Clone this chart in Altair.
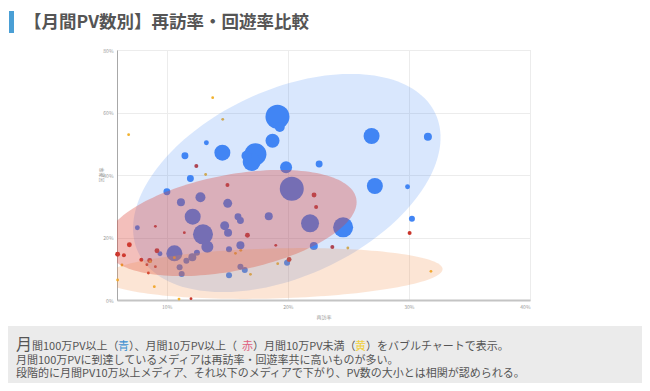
import altair as alt
import pandas as pd
import numpy as np

# ---------------- data ----------------
# 月間100万PV以上 (blue)
blue_x = [19.15, 19.34, 18.74, 17.33, 16.59, 17.02, 14.60, 19.86, 22.59, 20.33,
          15.04, 18.43, 15.89, 16.09, 14.79, 15.07, 21.84, 24.57, 16.09, 15.15,
          22.15, 19.94, 16.09, 16.45, 15.15, 13.28, 11.51, 11.96, 26.92, 31.57,
          27.19, 29.89, 30.25, 10.02, 11.18, 12.79, 12.15, 7.58, 13.00, 13.36,
          10.64, 9.45, 12.50, 12.12, 11.63, 11.07, 11.24]
blue_y = [58.66, 55.36, 50.98, 46.62, 46.18, 44.16, 47.14, 42.46, 43.52, 35.62,
          30.94, 26.78, 26.66, 25.44, 23.78, 21.54, 24.54, 23.26, 17.50, 16.22,
          17.28, 11.94, 10.66, 9.60, 7.90, 50.34, 46.18, 38.88, 52.48, 52.26,
          36.48, 36.26, 26.02, 34.66, 31.26, 32.86, 26.66, 23.14, 21.02, 17.06,
          14.94, 14.82, 15.14, 13.66, 12.58, 10.46, 8.32]
blue_pv = [144, 25, 49, 121, 25, 81, 64, 36, 12, 144,
           20, 16, 12, 12, 20, 16, 81, 100, 16, 9,
           16, 9, 9, 9, 9, 6, 12, 12, 64, 16,
           64, 6, 9, 12, 16, 25, 64, 6, 100, 36,
           64, 6, 9, 16, 9, 9, 9]

# 月間10万PV以上 (red)
red_x = [15.02, 22.17, 22.34, 16.67, 19.01, 23.68, 20.11, 12.45, 9.07, 11.46,
         6.92, 9.20, 5.95, 6.47, 7.91, 8.60, 8.37, 9.07, 8.49, 12.01, 30.06]
red_y = [36.80, 33.60, 29.76, 20.70, 17.50, 16.96, 12.96, 42.88, 23.58, 21.54,
         17.70, 15.78, 14.62, 14.30, 12.90, 12.64, 11.30, 10.66, 8.64, 0.42, 21.44]
red_pv = [4, 6, 4, 6, 2, 4, 6, 4, 2, 2,
          6, 6, 6, 4, 4, 6, 2, 2, 2, 2, 4]

# 月間10万PV未満 (yellow)
yel_x = [6.86, 13.80, 14.63, 13.22, 15.68, 16.12, 19.17, 16.92, 8.65, 10.64,
         6.31, 5.95, 8.98, 11.02, 24.96, 31.82]
yel_y = [52.90, 64.74, 57.82, 40.16, 14.94, 15.90, 11.62, 8.22, 12.26, 13.54,
         11.20, 6.40, 4.26, 0.30, 16.64, 9.18]
yel_pv = [2] * 16

groups = ["月間100万PV以上", "月間10万PV以上", "月間10万PV未満"]
group_colors = ["#4285f4", "#c9352b", "#f2b22e"]

x_ticks = [10, 20, 30, 40]
y_ticks = [0, 20, 40, 60, 80]
x_domain = [5.9, 40]
y_domain = [0, 80]

# highlight ellipses: centre (data units), semi-axes (px), tilt (deg)
ell_names = ["blue", "red", "orange"]
ell_cx = [19.92, 15.28, 18.75]
ell_cy = [37.44, 24.64, 8.48]
ell_a = [164, 128, 170]
ell_b = [93, 48, 25]
ell_angle = [25, 11, 1.5]
ell_color = ["#4285f4", "#db4437", "#f0883e"]
ell_opacity = [0.2, 0.34, 0.22]

title_text = "【月間PV数別】再訪率・回遊率比較"
x_title = "再訪率"
y_title = "回遊率"
line1_big = "月"
line1_segments = ["間100万PV以上（", "青", "）、月間10万PV以上（", "赤",
                  "）月間10万PV未満（", "黄", "）をバブルチャートで表示。"]
line1_colors = ["#555555", "#3a8fd0", "#555555", "#e0607e", "#555555", "#f0d040", "#555555"]
line2 = "月間100万PVに到達しているメディアは再訪率・回遊率共に高いものが多い。"
line3 = "段階的に月間PV10万以上メディア、それ以下のメディアで下がり、PV数の大小とは相関が認められる。"

# ---------------- build tables ----------------
W, H = 413, 250
kx = W / (x_domain[1] - x_domain[0])
ky = H / (y_domain[1] - y_domain[0])

bub = pd.concat([
    pd.DataFrame({"x": blue_x, "y": blue_y, "pv": blue_pv, "g": groups[0]}),
    pd.DataFrame({"x": red_x, "y": red_y, "pv": red_pv, "g": groups[1]}),
    pd.DataFrame({"x": yel_x, "y": yel_y, "pv": yel_pv, "g": groups[2]}),
], ignore_index=True)
bub["z"] = -bub["pv"]

FONT = "Noto Sans CJK JP"

xenc = alt.X("x:Q", scale=alt.Scale(domain=x_domain, nice=False, zero=False),
             axis=alt.Axis(values=x_ticks, labelExpr="datum.value + '%'", title=None,
                           grid=True, gridColor="#ececec", domainColor="#c4c4c4", domainWidth=2,
                           ticks=False, labelFontSize=5, labelColor="#9a9a9a", labelPadding=4,
                           labelFont=FONT))
yenc = alt.Y("y:Q", scale=alt.Scale(domain=y_domain, nice=False),
             axis=alt.Axis(values=y_ticks, labelExpr="datum.value + '%'", title=None,
                           grid=True, gridColor="#ececec", domainColor="#a8a8a8", domainWidth=1,
                           ticks=False, labelFontSize=5, labelColor="#9a9a9a", labelPadding=4,
                           labelFont=FONT))

bubbles = alt.Chart(bub).mark_circle(opacity=1).encode(
    x=xenc, y=yenc,
    color=alt.Color("g:N", scale=alt.Scale(domain=groups, range=group_colors), legend=None),
    size=alt.Size("pv:Q", scale=alt.Scale(domain=[0, 144], range=[0, 576], zero=True), legend=None),
    order=alt.Order("z:Q"),
)

ell_layers = []
t = np.linspace(0, 2 * np.pi, 161)
for i in range(len(ell_names)):
    th = np.deg2rad(ell_angle[i])
    dx = ell_a[i] * np.cos(th) * np.cos(t) - ell_b[i] * np.sin(th) * np.sin(t)
    dy = ell_a[i] * np.sin(th) * np.cos(t) + ell_b[i] * np.cos(th) * np.sin(t)
    df = pd.DataFrame({"x": ell_cx[i] + dx / kx, "y": ell_cy[i] + dy / ky, "i": np.arange(len(t))})
    ell_layers.append(
        alt.Chart(df).mark_line(fill=ell_color[i], fillOpacity=ell_opacity[i],
                                strokeOpacity=0, strokeWidth=0, clip=True)
        .encode(x=xenc, y=yenc, order="i:Q")
    )

one = pd.DataFrame({"k": [0]})

# page coordinates -> plot-relative (plot origin at page x=117, y=50)
def px(v):
    return v - 117

def py(v):
    return v - 50

footer_bg = alt.Chart(one).mark_rect(color="#ebebeb").encode(
    x=alt.value(px(8)), x2=alt.value(px(642)), y=alt.value(py(326)), y2=alt.value(py(383)))

title_bar = alt.Chart(one).mark_rect(color="#4a9fd5").encode(
    x=alt.value(px(9)), x2=alt.value(px(14)), y=alt.value(py(11)), y2=alt.value(py(33)))

def text_layer(txt, x, y, size, color="#555555", bold=False, align="left", angle=0, baseline="alphabetic"):
    kw = dict(align=align, baseline=baseline, fontSize=size, color=color, font=FONT)
    if bold:
        kw["fontWeight"] = "bold"
    if angle:
        kw["angle"] = angle
    return alt.Chart(pd.DataFrame({"t": [txt]})).mark_text(**kw).encode(
        x=alt.value(x), y=alt.value(y), text="t:N")

FS = 11
L1 = 350
texts = [
    text_layer(title_text, px(24), py(28), 17.5, color="#555555", bold=True),
    text_layer(x_title, px(324), py(319), 5, color="#999999", align="center"),
    text_layer(y_title, px(101), py(175), 5, color="#999999", align="center", angle=270, baseline="middle"),
    text_layer(line1_big, px(16), py(L1), 16, color="#555555"),
    text_layer(line2, px(16), py(364), FS, color="#555555"),
    text_layer(line3, px(16), py(377), FS, color="#555555"),
]

# approximate advance widths (Noto Sans CJK JP) to chain the coloured segments
def est_width(s):
    w = 0.0
    for ch in s:
        if ch.isdigit():
            w += 0.55 * FS
        elif ch == "P":
            w += 0.6 * FS
        elif ch == "V":
            w += 0.57 * FS
        else:
            w += 1.0 * FS
    return w

cur = 32
for seg, col in zip(line1_segments, line1_colors):
    texts.append(text_layer(seg, px(cur), py(L1), FS, color=col))
    cur += est_width(seg)

chart = alt.layer(footer_bg, title_bar, bubbles, *ell_layers, *texts).properties(
    width=W, height=H,
    autosize=alt.AutoSizeParams(type="none"),
    padding={"left": 109, "top": 42, "right": 112, "bottom": 83},
    background="white",
).configure_view(stroke="#e6e6e6").configure(font=FONT)

chart.save("out.html", embed_options={"renderer": "svg", "actions": False})
